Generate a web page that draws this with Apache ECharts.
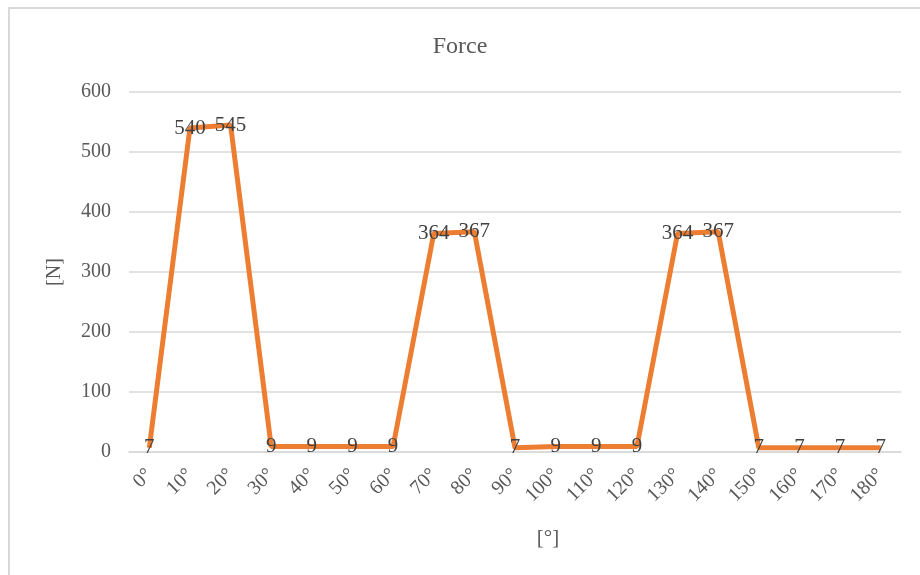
<!DOCTYPE html>
<html>
<head>
<meta charset="utf-8">
<script src="https://cdn.jsdelivr.net/npm/echarts@6/dist/echarts.min.js"></script>
<style>
  body { margin: 0; background: #fff; }
  #frame {
    position: absolute; left: 8px; top: 7px;
    width: 940px; height: 600px;
    border: 2px solid #d9d9d9;
  }
  #chart { position: absolute; left: 0; top: 0; width: 920px; height: 575px; }
</style>
</head>
<body>
<div id="frame"></div>
<div id="chart"></div>
<script>
// angle categories
const angles = ['0°', '10°', '20°', '30°', '40°', '50°', '60°', '70°', '80°', '90°',
  '100°', '110°', '120°', '130°', '140°', '150°', '160°', '170°', '180°']
// force values [N]
const force = [7, 540, 545, 9, 9, 9, 9, 364, 367, 7, 9, 9, 9, 364, 367, 7, 7, 7, 7]

const serif = '"Liberation Serif", "DejaVu Serif", serif'

const chart = echarts.init(document.getElementById('chart'))
chart.setOption({
  animation: false,
  title: {
    text: 'Force',
    left: 'center',
    top: 30,
    textStyle: { fontFamily: serif, fontSize: 24, fontWeight: 'normal', color: '#595959' }
  },
  grid: { left: 129, right: 19, top: 92, bottom: 123 },
  xAxis: {
    type: 'category',
    data: angles,
    name: '[°]',
    nameLocation: 'middle',
    nameGap: 76,
    nameTextStyle: { fontFamily: serif, fontSize: 21, color: '#595959', padding: [0, 0, 0, 66] },
    axisLine: { lineStyle: { color: '#d9d9d9', width: 1.5 } },
    axisTick: { show: false },
    axisLabel: { rotate: 45, margin: 20, fontFamily: serif, fontSize: 20, color: '#595959', interval: 0 }
  },
  yAxis: {
    type: 'value',
    min: 0,
    max: 600,
    interval: 100,
    name: '[N]',
    nameLocation: 'middle',
    nameGap: 64,
    nameTextStyle: { fontFamily: serif, fontSize: 20, color: '#595959' },
    axisLine: { show: false },
    axisTick: { show: false },
    axisLabel: { margin: 18, fontFamily: serif, fontSize: 20, color: '#595959' },
    splitLine: { lineStyle: { color: '#d9d9d9', width: 1.5 } }
  },
  series: [
    {
      type: 'line',
      data: force,
      showSymbol: true,
      symbol: 'circle',
      symbolSize: 0,
      lineStyle: { color: '#ED7D31', width: 5 },
      itemStyle: { color: '#ED7D31' },
      label: {
        show: true,
        position: 'inside',
        fontFamily: serif,
        fontSize: 21,
        color: '#404040'
      }
    }
  ]
})
</script>
</body>
</html>
